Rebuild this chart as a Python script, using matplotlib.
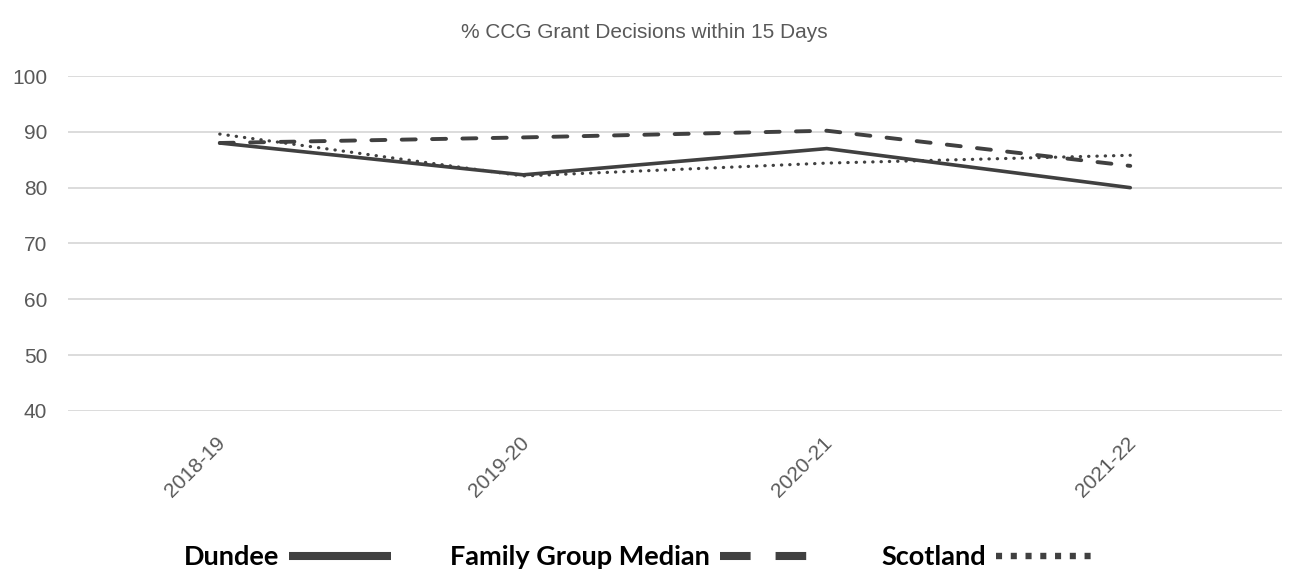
from matplotlib import pyplot as plt
from matplotlib.lines import Line2D
from matplotlib.transforms import ScaledTranslation

years = ['2018-19', '2019-20', '2020-21', '2021-22']
dundee = [88.0, 82.3, 87.0, 80.0]
family_median = [88.0, 89.0, 90.2, 83.9]
scotland = [89.6, 82.1, 84.4, 85.8]

line_col = '#404040'
text_col = '#595959'

fig = plt.figure(figsize=(12.89, 5.69), dpi=100)
ax = fig.add_axes([68 / 1289, 1 - 411 / 569, (1282 - 68) / 1289, (411 - 76) / 569])

x = range(len(years))
ax.plot(x, dundee, color=line_col, lw=2.6, solid_capstyle='round', label='Dundee')
ax.plot(x, family_median, color=line_col, lw=2.8, dashes=(3.6, 4.2),
        dash_capstyle='round', label='Family Group Median')
ax.plot(x, scotland, color=line_col, lw=2.3, dashes=(0.1, 2.5),
        dash_capstyle='round', label='Scotland')

ax.set_xlim(-0.5, 3.5)
ax.set_ylim(40, 100)
ax.set_yticks(range(40, 101, 10))
ax.grid(axis='y', color='#d9d9d9', lw=1.3)
ax.set_axisbelow(True)
for s in ax.spines.values():
    s.set_visible(False)
ax.tick_params(length=0, labelsize=15, labelcolor=text_col)
ax.tick_params(axis='y', pad=15)
ax.tick_params(axis='x', pad=16)
ax.set_xticks(list(x))
ax.set_xticklabels(years, rotation=45, ha='right', rotation_mode='anchor',
                   fontfamily='Liberation Sans')
shift = ScaledTranslation(-4 / 100, 0, fig.dpi_scale_trans)
for t in ax.get_xticklabels():
    t.set_transform(t.get_transform() + shift)
for t in ax.get_yticklabels():
    t.set_fontfamily('Liberation Sans')

fig.text(0.5, 1 - 33 / 569, '% CCG Grant Decisions within 15 Days', ha='center', va='center',
         fontsize=15, color=text_col, fontfamily='Liberation Sans')

handles = [
    Line2D([], [], color=line_col, lw=5.8, solid_capstyle='butt'),
    Line2D([], [], color=line_col, lw=5.8, dashes=(3.8, 3.1), dash_capstyle='butt'),
    Line2D([], [], color=line_col, lw=4.6, dashes=(0.95, 1.36), dash_capstyle='butt'),
]
fig.legend(handles, ['Dundee', 'Family Group Median', 'Scotland'], loc='center',
           bbox_to_anchor=(0.497, 1 - 557 / 569), ncol=3, frameon=False, markerfirst=False,
           handlelength=3.75, handletextpad=0.37, columnspacing=2.2, borderpad=0.1,
           prop={'family': 'Lato', 'weight': 'bold', 'size': 19.5})

fig.savefig('out.png', dpi=100)
